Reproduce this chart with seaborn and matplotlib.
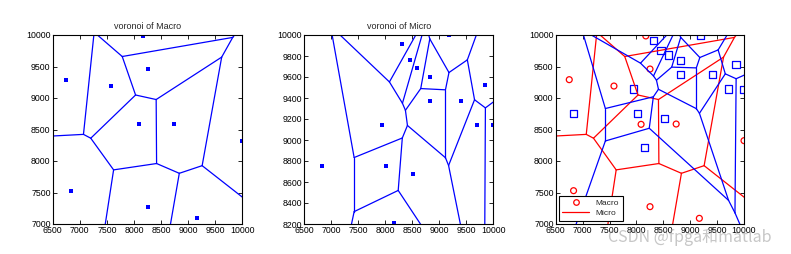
import numpy as np
import pandas as pd
import matplotlib
matplotlib.use("Agg")
import matplotlib.pyplot as plt
import matplotlib.tri as mtri
from matplotlib.lines import Line2D
import seaborn as sns

# ---------------- data ----------------
macro_x = [8175, 8253, 6752, 7583, 8087, 8739, 10000, 6832, 8253, 9170]
macro_y = [9985, 9460, 9291, 9190, 8582, 8587, 8323, 7529, 7275, 7090]
micro_x = [8315, 8457, 8593, 8827, 9185, 9852, 8821, 9407, 7938, 9704, 10000, 6827, 8019, 8519, 8154]
micro_y = [9914, 9759, 9683, 9600, 9997, 9527, 9371, 9371, 9143, 9143, 9140, 8755, 8755, 8679, 8209]

titles = ["voronoi of Macro", "voronoi of Micro"]
legend_labels = ["Macro", "Micro"]
x_ticks = [6500, 7000, 7500, 8000, 8500, 9000, 9500, 10000]
y_ticks_macro = [7000, 7500, 8000, 8500, 9000, 9500, 10000]
y_ticks_micro = [8200, 8400, 8600, 8800, 9000, 9200, 9400, 9600, 9800, 10000]


def voronoi_frame(x, y, far=2e5):
    """Voronoi edges via the Delaunay triangulation (matplotlib.tri)."""
    x = np.asarray(x, float)
    y = np.asarray(y, float)
    tri = mtri.Triangulation(x, y)
    T = tri.triangles
    N = tri.neighbors
    P = np.column_stack([x, y])
    A, B, C = P[T[:, 0]], P[T[:, 1]], P[T[:, 2]]
    d = 2 * (A[:, 0] * (B[:, 1] - C[:, 1]) + B[:, 0] * (C[:, 1] - A[:, 1]) + C[:, 0] * (A[:, 1] - B[:, 1]))
    a2, b2, c2 = (A ** 2).sum(1), (B ** 2).sum(1), (C ** 2).sum(1)
    ux = (a2 * (B[:, 1] - C[:, 1]) + b2 * (C[:, 1] - A[:, 1]) + c2 * (A[:, 1] - B[:, 1])) / d
    uy = (a2 * (C[:, 0] - B[:, 0]) + b2 * (A[:, 0] - C[:, 0]) + c2 * (B[:, 0] - A[:, 0])) / d
    cc = np.column_stack([ux, uy])
    center = P.mean(0)
    rows = []
    sid = 0
    for t in range(len(T)):
        for j in range(3):
            n = N[t, j]
            if n > t:
                p, q = cc[t], cc[n]
            elif n == -1:
                p1, p2 = P[T[t, j]], P[T[t, (j + 1) % 3]]
                e = p2 - p1
                nrm = np.array([-e[1], e[0]]) / np.hypot(*e)
                mid = (p1 + p2) / 2
                if np.dot(mid - center, nrm) < 0:
                    nrm = -nrm
                p, q = cc[t], cc[t] + nrm * far
            else:
                continue
            rows.append((sid, p[0], p[1], 0))
            rows.append((sid, q[0], q[1], 1))
            sid += 1
    return pd.DataFrame(rows, columns=["seg", "x", "y", "order"])


sns.set_style("white")
plt.rcParams["font.family"] = ["Liberation Sans", "DejaVu Sans"]
plt.rcParams["axes.linewidth"] = 0.8

fig = plt.figure(figsize=(7.91, 2.54), dpi=100)
H = 254.0
W = 791.0
bottom = (H - 224) / H
height = 189 / H
ax1 = fig.add_axes([52.7 / W, bottom, 189.6 / W, height])
ax2 = fig.add_axes([304.3 / W, bottom, 189.0 / W, height])
ax3 = fig.add_axes([555.7 / W, bottom, 188.3 / W, height])

BLUE = (0, 0, 1)
RED = (1, 0, 0)

macro_df = pd.DataFrame({"x": macro_x, "y": macro_y})
micro_df = pd.DataFrame({"x": micro_x, "y": micro_y})
vmac = voronoi_frame(macro_x, macro_y)
vmic = voronoi_frame(micro_x, micro_y)


def draw_vor(ax, vdf, color):
    sns.lineplot(data=vdf, x="x", y="y", units="seg", estimator=None, sort=False,
                 color=color, lw=0.9, ax=ax, legend=False)


# Plot 1
draw_vor(ax1, vmac, BLUE)
sns.scatterplot(data=macro_df, x="x", y="y", ax=ax1, color=BLUE, s=6, marker="s", linewidth=0)
ax1.set_title(titles[0], fontsize=6.5, pad=4)
ax1.set_xlim(6500, 10000)
ax1.set_ylim(7000, 10000)
ax1.set_yticks(y_ticks_macro)

# Plot 2
draw_vor(ax2, vmic, BLUE)
sns.scatterplot(data=micro_df, x="x", y="y", ax=ax2, color=BLUE, s=6, marker="s", linewidth=0)
ax2.set_title(titles[1], fontsize=6.5, pad=4)
ax2.set_xlim(6500, 10000)
ax2.set_ylim(8200, 10000)
ax2.set_yticks(y_ticks_micro)

# Plot 3
draw_vor(ax3, vmac, RED)
draw_vor(ax3, vmic, BLUE)
sns.scatterplot(data=macro_df, x="x", y="y", ax=ax3, marker="o", s=18,
                facecolor="none", edgecolor=RED, linewidth=0.9)
sns.scatterplot(data=micro_df, x="x", y="y", ax=ax3, marker="s", s=26,
                facecolor="none", edgecolor=BLUE, linewidth=0.9)
ax3.set_xlim(6500, 10000)
ax3.set_ylim(7000, 10000)
ax3.set_yticks(y_ticks_macro)

handles = [Line2D([], [], color=RED, marker="o", ls="none", markersize=4, mfc="none", mew=0.9),
           Line2D([], [], color=RED, lw=0.9)]
leg = ax3.legend(handles, legend_labels, loc="lower left", fontsize=6, frameon=True,
                 fancybox=False, edgecolor="black", framealpha=1, borderpad=0.4,
                 handlelength=3.2, labelspacing=0.3, borderaxespad=0.4)
leg.get_frame().set_linewidth(0.8)

for ax in (ax1, ax2, ax3):
    ax.set_xticks(x_ticks)
    ax.set_xlabel("")
    ax.set_ylabel("")
    ax.tick_params(direction="in", length=3, width=0.6, labelsize=6.3, pad=1.5,
                   top=True, right=True, bottom=True, left=True, colors="black")
    for s in ax.spines.values():
        s.set_color("black")
        s.set_linewidth(0.8)
    ax.set_facecolor("white")

fig.text(0.975, 0.03, "CSDN @fpga和matlab", ha="right", va="bottom", fontsize=11.5,
         color=(0.6, 0.6, 0.6), alpha=0.55,
         family=["Noto Sans CJK SC", "DejaVu Sans"])

fig.savefig("out.png", dpi=100, facecolor="white")
